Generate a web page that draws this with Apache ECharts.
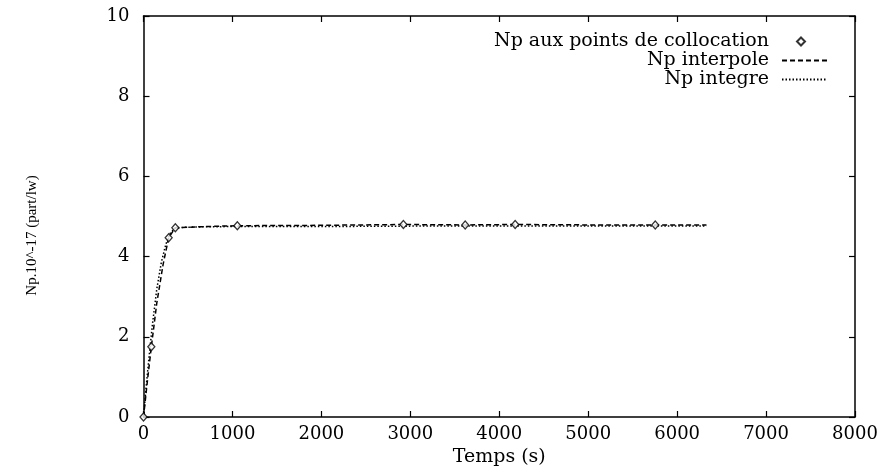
<!DOCTYPE html>
<html><head><meta charset="utf-8">
<script src="https://cdn.jsdelivr.net/npm/echarts@6/dist/echarts.min.js"></script>
<style>html,body{margin:0;padding:0;background:#fff}#c{width:881px;height:467px}</style>
</head><body><div id="c"></div>
<script>
// ---- data ----
const xTicks = [0, 1000, 2000, 3000, 4000, 5000, 6000, 7000, 8000];
const yTicks = [0, 2, 4, 6, 8, 10];

const collocT  = [0, 88, 283, 358, 1055, 2922, 3617, 4179, 5754];
const collocNp = [0, 1.75, 4.47, 4.72, 4.77, 4.80, 4.79, 4.80, 4.79];

const interpT  = [0, 40, 88, 150, 220, 283, 358, 700, 1055, 2000, 2922, 3617, 4179, 5000, 5754, 6330];
const interpNp = [0, 0.82, 1.75, 2.85, 3.8, 4.47, 4.72, 4.75, 4.77, 4.78, 4.80, 4.79, 4.80, 4.79, 4.79, 4.79];

const integT   = [0, 30, 60, 100, 150, 200, 250, 300, 350, 450, 600, 1000, 2000, 3000, 4000, 5000, 6330];
const integNp  = [0, 0.75, 1.45, 2.3, 3.2, 3.85, 4.3, 4.58, 4.7, 4.73, 4.74, 4.75, 4.75, 4.76, 4.76, 4.76, 4.76];

const names = ['Np aux points de collocation', 'Np interpole', 'Np integre'];
const xTitle = 'Temps (s)';
const yTitle = 'Np.10^-17 (part/lw)';

const zip = (a, b) => a.map((v, i) => [v, b[i]]);

const SERIF_W = 'DejaVu Serif';
const SERIF_N = 'Liberation Serif';

const axisLine = { show: true, onZero: false, lineStyle: { color: '#000', width: 1.5 } };
const tick = { show: true, inside: true, length: 6, lineStyle: { color: '#000', width: 1.2 } };

const xBase = { type: 'value', min: xTicks[0], max: xTicks[xTicks.length - 1], interval: xTicks[1] - xTicks[0], splitLine: { show: false }, axisLine, axisTick: tick };
const yBase = { type: 'value', min: yTicks[0], max: yTicks[yTicks.length - 1], interval: yTicks[1] - yTicks[0], splitLine: { show: false }, axisLine, axisTick: tick };

const legendCommon = {
  orient: 'vertical', align: 'right', padding: 0, itemGap: 0,
  textStyle: { fontFamily: SERIF_W, fontSize: 19, color: '#000', lineHeight: 20 }
};

const chart = echarts.init(document.getElementById('c'), null, { renderer: 'canvas' });
chart.setOption({
  animation: false,
  backgroundColor: '#fff',
  grid: { left: 143.5, right: 26, top: 16, bottom: 50, containLabel: false, outerBoundsMode: 'none' },
  legend: [
    Object.assign({}, legendCommon, { data: [names[0]], right: 75, top: 31.5, itemWidth: 8, itemHeight: 8,
      textStyle: Object.assign({}, legendCommon.textStyle, { padding: [0, 23, 0, 0] }) }),
    Object.assign({}, legendCommon, { data: [names[1]], right: 53, top: 50.5, itemWidth: 45, itemHeight: 14,
      itemStyle: { opacity: 0 },
      textStyle: Object.assign({}, legendCommon.textStyle, { padding: [0, 8, 0, 0] }) }),
    Object.assign({}, legendCommon, { data: [names[2]], right: 53, top: 69.5, itemWidth: 45, itemHeight: 14,
      itemStyle: { opacity: 0 },
      textStyle: Object.assign({}, legendCommon.textStyle, { padding: [0, 8, 0, 0] }) })
  ],
  xAxis: [
    Object.assign({}, xBase, {
      position: 'bottom',
      axisLabel: { fontFamily: SERIF_W, fontSize: 18, color: '#000', margin: 8, formatter: v => String(v) },
      name: xTitle, nameLocation: 'middle', nameGap: 28,
      nameTextStyle: { fontFamily: SERIF_W, fontSize: 19, color: '#000' }
    }),
    Object.assign({}, xBase, { position: 'top', axisLabel: { show: false } })
  ],
  yAxis: [
    Object.assign({}, yBase, {
      position: 'left',
      axisLabel: { fontFamily: SERIF_W, fontSize: 18, color: '#000', margin: 14, formatter: v => String(v) },
      name: yTitle, nameLocation: 'middle', nameRotate: 90, nameGap: 104,
      nameTextStyle: { fontFamily: SERIF_N, fontSize: 15, color: '#000', padding: [0, 38, 0, 0] }
    }),
    Object.assign({}, yBase, { position: 'right', axisLabel: { show: false } })
  ],
  series: [
    {
      name: names[1], type: 'line', data: zip(interpT, interpNp), symbol: 'none', z: 3,
      itemStyle: { color: '#000' },
      lineStyle: { color: '#000', width: 1.5, type: [5, 3] }
    },
    {
      name: names[2], type: 'line', data: zip(integT, integNp), symbol: 'none', z: 3,
      itemStyle: { color: '#000' },
      lineStyle: { color: '#000', width: 1.5, type: [1.5, 2] }
    },
    {
      name: names[0], type: 'scatter', data: zip(collocT, collocNp), symbol: 'diamond', symbolSize: [7, 8], z: 5,
      itemStyle: { color: '#fff', borderColor: '#000', borderWidth: 1.3 }
    }
  ]
});
</script>
</body></html>
